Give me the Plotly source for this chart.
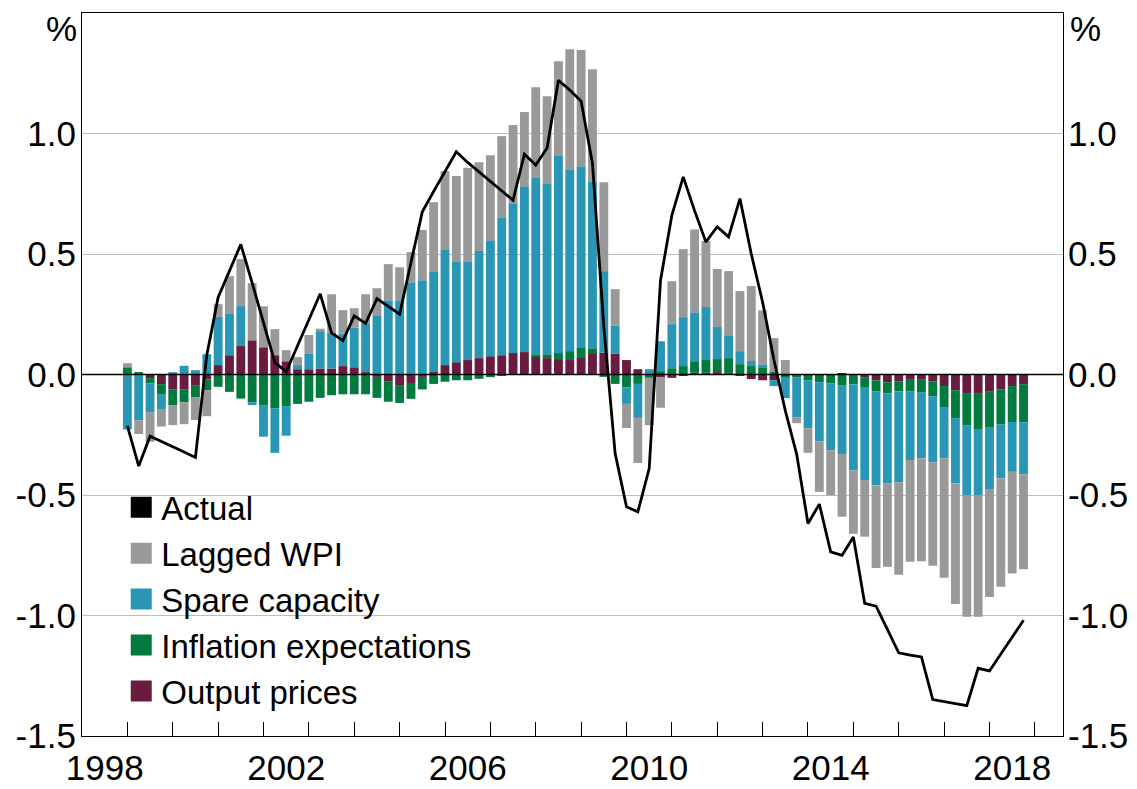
import plotly.graph_objects as go

# Quarterly periods (1999 Q1 .. 2018 Q4)
quarters = [f"{y}-Q{q}" for y in range(1999, 2019) for q in (1, 2, 3, 4)]
xpos = [int(s[:4]) + (int(s[-1]) - 1) * 0.25 for s in quarters]

output_prices = [
    0.0, 0.0, -0.015, -0.04, -0.061, -0.061, -0.044, -0.021,
    0.039, 0.08, 0.118, 0.142, 0.113, 0.08, 0.055, 0.022,
    0.022, 0.025, 0.025, 0.035, 0.03, 0.01, -0.01, -0.03,
    -0.044, -0.035, -0.01, 0.01, 0.039, 0.051, 0.06, 0.068,
    0.076, 0.08, 0.089, 0.093, 0.076, 0.068, 0.064, 0.06,
    0.072, 0.089, 0.09, 0.086, 0.06, 0.022, 0.0, -0.012,
    -0.014, -0.005, 0.007, 0.007, 0.01, 0.007, -0.003, -0.019,
    -0.024, -0.024, -0.007, -0.003, -0.003, -0.003, -0.003, 0.005,
    0.0, -0.011, -0.024, -0.032, -0.028, -0.019, -0.019, -0.028,
    -0.048, -0.065, -0.077, -0.077, -0.069, -0.061, -0.048, -0.04,
]
inflation_expectations = [
    0.03, 0.01, -0.021, -0.044, -0.066, -0.054, -0.05, -0.044,
    -0.051, -0.072, -0.10, -0.115, -0.127, -0.14, -0.131, -0.122,
    -0.113, -0.097, -0.086, -0.082, -0.082, -0.082, -0.087, -0.083,
    -0.074, -0.066, -0.052, -0.039, -0.03, -0.024, -0.024, -0.018,
    -0.011, -0.003, -0.002, 0.0, 0.008, 0.016, 0.025, 0.037,
    0.041, 0.02, -0.01, -0.039, -0.053, -0.039, -0.014, 0.014,
    0.026, 0.035, 0.048, 0.053, 0.054, 0.061, 0.043, 0.035,
    0.03, 0.01, -0.004, -0.008, -0.021, -0.029, -0.033, -0.044,
    -0.04, -0.041, -0.046, -0.046, -0.041, -0.05, -0.054, -0.062,
    -0.087, -0.116, -0.133, -0.149, -0.149, -0.145, -0.149, -0.158,
]
spare_capacity = [
    -0.228, -0.19, -0.12, -0.059, 0.01, 0.036, 0.018, 0.084,
    0.2, 0.174, 0.166, -0.012, -0.131, -0.185, -0.123, 0.017,
    0.066, 0.155, 0.148, 0.135, 0.164, 0.203, 0.246, 0.308,
    0.308, 0.383, 0.391, 0.415, 0.481, 0.419, 0.41, 0.444,
    0.481, 0.573, 0.622, 0.688, 0.731, 0.706, 0.821, 0.755,
    0.751, 0.693, 0.339, 0.116, -0.069, -0.141, 0.022, 0.124,
    0.183, 0.203, 0.203, 0.22, 0.133, 0.095, 0.054, 0.021,
    0.012, -0.024, -0.087, -0.166, -0.199, -0.245, -0.278, -0.286,
    -0.357, -0.386, -0.39, -0.373, -0.378, -0.286, -0.274, -0.274,
    -0.212, -0.27, -0.29, -0.274, -0.257, -0.224, -0.207, -0.216,
]
lagged_wpi = [
    0.017, -0.057, -0.123, -0.073, -0.083, -0.091, -0.095, -0.108,
    0.053, 0.154, 0.195, 0.237, 0.17, 0.108, 0.046, 0.033,
    0.076, 0.01, 0.16, 0.097, 0.081, 0.12, 0.112, 0.15,
    0.137, 0.125, 0.209, 0.29, 0.324, 0.354, 0.388, 0.369,
    0.353, 0.336, 0.324, 0.308, 0.377, 0.365, 0.39, 0.498,
    0.482, 0.465, 0.369, 0.152, -0.1, -0.187, -0.196, -0.126,
    0.178, 0.282, 0.344, 0.274, 0.241, 0.266, 0.249, 0.311,
    0.224, 0.141, 0.06, -0.025, -0.102, -0.21, -0.187, -0.26,
    -0.264, -0.235, -0.343, -0.347, -0.384, -0.422, -0.428, -0.43,
    -0.496, -0.501, -0.505, -0.505, -0.448, -0.451, -0.422, -0.394,
]
actual = [
    -0.213, -0.38, -0.256, -0.277, -0.3, -0.322, -0.344, 0.08,
    0.32, 0.43, 0.54, 0.38, 0.22, 0.05, 0.011, 0.12,
    0.225, 0.335, 0.173, 0.14, 0.243, 0.212, 0.315, 0.284,
    0.25, 0.465, 0.675, 0.76, 0.845, 0.924, 0.88, 0.84,
    0.8, 0.762, 0.723, 0.914, 0.869, 0.94, 1.221, 1.18,
    1.134, 0.876, 0.2, -0.328, -0.549, -0.57, -0.39, 0.391,
    0.661, 0.82, 0.68, 0.55, 0.613, 0.571, 0.73, 0.5,
    0.3, 0.06, -0.15, -0.33, -0.618, -0.538, -0.736, -0.75,
    -0.674, -0.95, -0.961, -1.058, -1.155, -1.164, -1.172, -1.349,
    -1.357, -1.366, -1.374, -1.219, -1.23, -1.16, -1.09, -1.02,
]

year_labels = ["1998", "2002", "2006", "2010", "2014", "2018"]
year_ticks = [1999 + i for i in range(21)]
y_ticks = [-1.5, -1.0, -0.5, 0.0, 0.5, 1.0]
y_ticktext = ["-1.5", "-1.0", "-0.5", "0.0", "0.5", "1.0"]

C_OP = "#6A1B40"
C_IE = "#007A3D"
C_SC = "#2A96B6"
C_WPI = "#999999"
FONT = "Arial, Liberation Sans, sans-serif"

fig = go.Figure()
bar_w = 0.195
for name, vals, col in [
    ("Output prices", output_prices, C_OP),
    ("Inflation expectations", inflation_expectations, C_IE),
    ("Spare capacity", spare_capacity, C_SC),
    ("Lagged WPI", lagged_wpi, C_WPI),
]:
    fig.add_trace(go.Bar(x=xpos, y=vals, name=name, width=bar_w,
                         marker=dict(color=col, line=dict(width=0)),
                         showlegend=False))

fig.add_trace(go.Scatter(x=xpos, y=actual, mode="lines", name="Actual",
                         line=dict(color="black", width=2.8), showlegend=False))

# legend entries
for name, col in [("Actual", "black"), ("Lagged WPI", C_WPI), ("Spare capacity", C_SC),
                  ("Inflation expectations", C_IE), ("Output prices", C_OP)]:
    fig.add_trace(go.Scatter(x=[None], y=[None], mode="markers", name=name,
                             marker=dict(symbol="square", size=16, color=col,
                                         line=dict(color=col, width=5)),
                             showlegend=True))

# dummy for right axis
fig.add_trace(go.Scatter(x=[None], y=[None], yaxis="y2", showlegend=False, hoverinfo="skip"))

label_pos = [int(s) + 0.5 for s in year_labels]

# the page body has an 8px default margin, so the figure is 8px smaller
fig.update_layout(
    template="none",
    width=1129, height=781,
    margin=dict(l=74, r=74, t=5, b=53, autoexpand=False),
    paper_bgcolor="white", plot_bgcolor="white",
    barmode="relative",
    font=dict(family=FONT, size=35, color="black"),
    showlegend=True,
    legend=dict(x=0.04, y=0.355, xanchor="left", yanchor="top",
                bgcolor="rgba(0,0,0,0)", borderwidth=0, font=dict(size=33, color="black"),
                itemsizing="trace", tracegroupgap=0),
    xaxis=dict(range=[1998.0, 2019.62], tickvals=label_pos, ticktext=year_labels,
               ticks="", showgrid=False, zeroline=False, automargin=False,
               showline=True, linecolor="black", linewidth=1.3, mirror=True,
               tickfont=dict(size=35), ticklabelstandoff=1,
               minor=dict(tickvals=year_ticks, ticks="inside", ticklen=14,
                          tickcolor="black", tickwidth=1.3, showgrid=False)),
    yaxis=dict(range=[-1.5, 1.5], tickvals=y_ticks, ticktext=y_ticktext,
               ticks="", showgrid=True, gridcolor="#BDBDBD", gridwidth=1,
               zeroline=False, showline=True, linecolor="black", linewidth=1.3,
               mirror=True, automargin=False, tickfont=dict(size=35),
               ticklabelstandoff=-2),
    yaxis2=dict(range=[-1.5, 1.5], tickvals=y_ticks, ticktext=y_ticktext,
                overlaying="y", side="right", ticks="", showgrid=False,
                zeroline=False, showline=False, automargin=False, tickfont=dict(size=35),
                ticklabelstandoff=4),
    shapes=[dict(type="line", xref="paper", yref="y", x0=0, x1=1, y0=0, y1=0,
                 line=dict(color="black", width=1.5), layer="above")],
    annotations=[
        dict(text="%", xref="paper", yref="paper", x=-0.021, y=0.979,
             xanchor="center", yanchor="middle", showarrow=False, font=dict(size=35)),
        dict(text="%", xref="paper", yref="paper", x=1.023, y=0.979,
             xanchor="center", yanchor="middle", showarrow=False, font=dict(size=35)),
    ],
)

fig.write_html("out.html")
